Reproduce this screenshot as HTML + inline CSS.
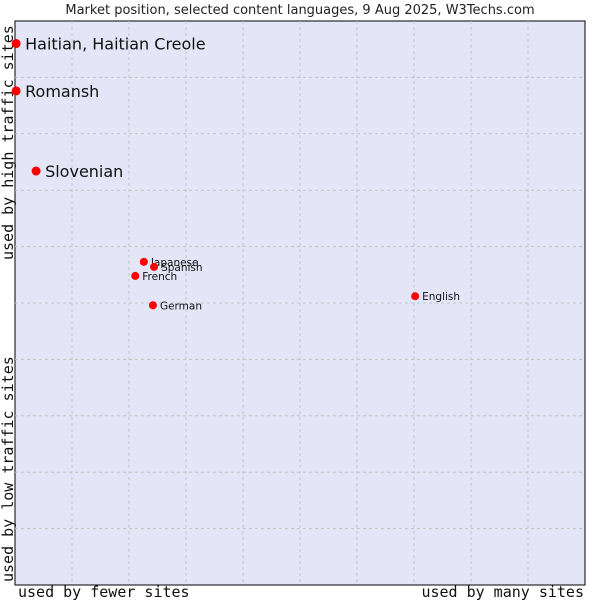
<!DOCTYPE html>
<html><head><meta charset="utf-8"><style>
body{margin:0;background:#fff;width:600px;height:600px;overflow:hidden}
svg{display:block}
</style></head><body>
<svg id="c" width="600" height="600" xmlns="http://www.w3.org/2000/svg">
<text x="300" y="14" text-anchor="middle" font-family="DejaVu Sans, sans-serif" font-size="13" fill="#222">Market position, selected content languages, 9 Aug 2025, W3Techs.com</text>
<rect x="15" y="21" width="570" height="564" fill="#e4e6f8" stroke="#000" stroke-width="1"/>
<g id="grid"></g>
<text x="18" y="597" font-family="DejaVu Sans Mono, monospace" font-size="15" fill="#111">used by fewer sites</text>
<text x="584" y="597" text-anchor="end" font-family="DejaVu Sans Mono, monospace" font-size="15" fill="#111">used by many sites</text>
<text transform="translate(13,260) rotate(-90)" font-family="DejaVu Sans Mono, monospace" font-size="15" fill="#111">used by high traffic sites</text>
<text transform="translate(13,582) rotate(-90)" font-family="DejaVu Sans Mono, monospace" font-size="15" fill="#111">used by low traffic sites</text>
<g id="pts"></g>
</svg>
<script>
const languages=["Haitian, Haitian Creole","Romansh","Slovenian","Japanese","Spanish","French","German","English"];
const xValues=[0.2,0.2,3.7,22.6,24.4,21.1,24.2,70.2];
const yValues=[96,87.6,73.4,57.3,56.4,54.8,49.6,51.2];
const highlighted=[true,true,true,false,false,false,false,false];
const NS="http://www.w3.org/2000/svg";
const L=15,R=585,T=21,B=585;
const xs=v=>L+(R-L)*v/100, ys=v=>B-(B-T)*v/100;
const g=document.getElementById('grid');
for(let i=1;i<10;i++){
 const a=document.createElementNS(NS,'line');
 a.setAttribute('x1',xs(i*10));a.setAttribute('x2',xs(i*10));a.setAttribute('y1',T);a.setAttribute('y2',B);
 a.setAttribute('stroke','#c4c4c4');a.setAttribute('stroke-dasharray','3,3');
 
 
 g.appendChild(a);
 const b=document.createElementNS(NS,'line');
 b.setAttribute('y1',ys(i*10));b.setAttribute('y2',ys(i*10));b.setAttribute('x1',L);b.setAttribute('x2',R);
 b.setAttribute('stroke','#c4c4c4');b.setAttribute('stroke-dasharray','3,3');
 
 
 g.appendChild(b);
}
const p=document.getElementById('pts');
languages.forEach((n,i)=>{
 const x=xs(xValues[i]),y=ys(yValues[i]);
 const c=document.createElementNS(NS,'circle');
 c.setAttribute('cx',x);c.setAttribute('cy',y);c.setAttribute('r',highlighted[i]?4.5:4);c.setAttribute('fill','#f00');
 
 
 p.appendChild(c);
 const t=document.createElementNS(NS,'text');
 t.setAttribute('x',x+(highlighted[i]?9:7));t.setAttribute('y',y+(highlighted[i]?6:4));
 t.setAttribute('font-family','DejaVu Sans, sans-serif');t.setAttribute('font-size',highlighted[i]?16:10.5);t.setAttribute('fill','#111');
 t.textContent=n;
 
 
 p.appendChild(t);
});
</script>
</body></html>
